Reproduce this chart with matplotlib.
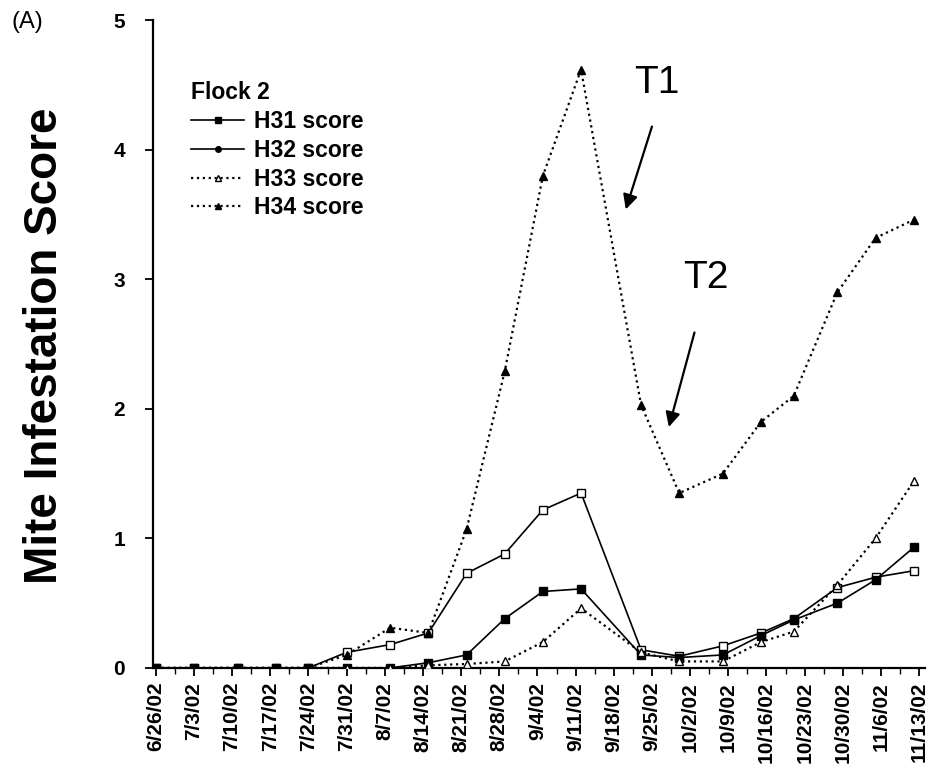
import numpy as np
import pandas as pd
import matplotlib
matplotlib.use("Agg")
import matplotlib.pyplot as plt
from matplotlib.lines import Line2D

# ---- data ----
sample_dates = ["2002-06-26", "2002-07-03", "2002-07-11", "2002-07-18", "2002-07-24",
                "2002-07-31", "2002-08-08", "2002-08-15", "2002-08-22", "2002-08-29",
                "2002-09-05", "2002-09-12", "2002-09-23", "2002-09-30", "2002-10-08",
                "2002-10-15", "2002-10-21", "2002-10-29", "2002-11-05", "2002-11-12"]
h31 = [0, 0, 0, 0, 0, 0.12, 0.18, 0.27, 0.73, 0.88, 1.22, 1.35, 0.14, 0.09, 0.17, 0.27, 0.38, 0.62, 0.70, 0.75]
h32 = [0, 0, 0, 0, 0, 0, 0, 0.04, 0.10, 0.38, 0.59, 0.61, 0.10, 0.08, 0.10, 0.25, 0.37, 0.50, 0.68, 0.93]
h33 = [0, 0, 0, 0, 0, 0, 0, 0.02, 0.03, 0.05, 0.20, 0.46, 0.12, 0.05, 0.05, 0.20, 0.28, 0.64, 1.00, 1.44]
h34 = [0, 0, 0, 0, 0, 0.10, 0.31, 0.27, 1.07, 2.29, 3.80, 4.62, 2.03, 1.35, 1.50, 1.90, 2.10, 2.90, 3.32, 3.46]
tick_labels = ["6/26/02", "7/3/02", "7/10/02", "7/17/02", "7/24/02", "7/31/02", "8/7/02",
               "8/14/02", "8/21/02", "8/28/02", "9/4/02", "9/11/02", "9/18/02", "9/25/02",
               "10/2/02", "10/9/02", "10/16/02", "10/23/02", "10/30/02", "11/6/02", "11/13/02"]
series_names = ["H31 score", "H32 score", "H33 score", "H34 score"]

start = pd.Timestamp("2002-06-26")
x = np.array([(pd.Timestamp(d) - start).days for d in sample_dates], dtype=float)
tick_pos = np.array([(pd.to_datetime(t, format="%m/%d/%y") - start).days for t in tick_labels], dtype=float)

plt.rcParams['font.family'] = ['Liberation Sans', 'DejaVu Sans']

fig = plt.figure(figsize=(9.33, 7.83), dpi=100)
ax = fig.add_axes([0.164, 0.147, 0.827, 0.827])

lw_solid = 1.2
lw_dot = 1.6
ms = 5.5
ax.plot(x, h31, '-', color='black', lw=lw_solid, marker='s', ms=ms, mfc='white', mec='black', mew=1.0, zorder=3)
ax.plot(x, h32, '-', color='black', lw=lw_solid, marker='s', ms=ms, mfc='black', mec='black', zorder=3)
ax.plot(x, h33, ':', color='black', lw=lw_dot, marker='^', ms=ms, mfc='white', mec='black', mew=1.0, zorder=3)
ax.plot(x, h34, ':', color='black', lw=lw_dot, marker='^', ms=ms, mfc='black', mec='black', zorder=3)

ax.set_xlim(-0.5, 141)
ax.set_ylim(0, 5)
ax.set_xticks(tick_pos)
ax.set_xticklabels(tick_labels, rotation=90, fontsize=15, fontweight='bold')
ax.set_xticks(tick_pos[:-1] + 3.5, minor=True)
ax.set_yticks([0, 1, 2, 3, 4, 5])
ax.set_yticklabels(["0", "1", "2", "3", "4", "5"], fontsize=15, fontweight='bold')
ax.tick_params(axis='both', which='major', direction='out', length=6, width=1.3, pad=4)
ax.tick_params(axis='x', which='minor', direction='out', length=4, width=1.0)
ax.tick_params(axis='y', pad=14)

for s in ['top', 'right']:
    ax.spines[s].set_visible(False)
for s in ['left', 'bottom']:
    ax.spines[s].set_linewidth(1.6)

fig.text(0.048, 0.559, "Mite Infestation Score", rotation=90, fontsize=33, fontweight='bold',
         ha='center', va='center')
fig.text(0.012, 0.972, "(A)", fontsize=17, ha='left', va='center')

handles = [
    Line2D([], [], ls='-', color='black', lw=lw_solid, marker='s', ms=4, mfc='black'),
    Line2D([], [], ls='-', color='black', lw=lw_solid, marker='o', ms=4, mfc='black'),
    Line2D([], [], ls=':', color='black', lw=lw_dot, marker='^', ms=4, mfc='white'),
    Line2D([], [], ls=':', color='black', lw=lw_dot, marker='^', ms=4, mfc='black'),
]
leg = ax.legend(handles, series_names, title="Flock 2", loc='upper left',
                bbox_to_anchor=(180 / 933, 1 - 70 / 783), bbox_transform=fig.transFigure,
                frameon=False, handlelength=2.3, handletextpad=0.45, labelspacing=0.25,
                borderpad=0, prop={'weight': 'bold', 'size': 16.5},
                title_fontproperties={'weight': 'bold', 'size': 16.5}, alignment='left')

# annotations
ax.annotate("", xy=(86.2, 3.54), xytext=(91.0, 4.18),
            arrowprops=dict(arrowstyle='-|>', color='black', lw=1.6, mutation_scale=22, shrinkA=0, shrinkB=0))
ax.text(91.9, 4.52, "T1", fontsize=28, ha='center', va='center')
ax.annotate("", xy=(94.1, 1.86), xytext=(98.8, 2.59),
            arrowprops=dict(arrowstyle='-|>', color='black', lw=1.6, mutation_scale=22, shrinkA=0, shrinkB=0))
ax.text(100.8, 3.01, "T2", fontsize=28, ha='center', va='center')

fig.savefig("out.png", dpi=100)
